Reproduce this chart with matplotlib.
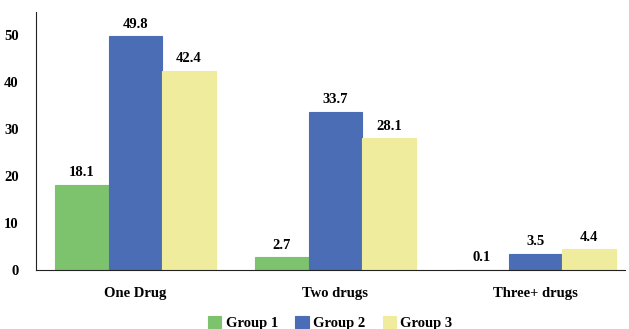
import numpy as np
import matplotlib.pyplot as plt

categories = ["One Drug", "Two drugs", "Three+ drugs"]
groups = ["Group 1", "Group 2", "Group 3"]
group1 = [18.1, 2.7, 0.1]
group2 = [49.8, 33.7, 3.5]
group3 = [42.4, 28.1, 4.4]
colors = ["#7dc36e", "#4a6db5", "#f0ec9e"]

plt.rcParams["font.family"] = ["Liberation Serif", "DejaVu Serif"]
plt.rcParams["font.weight"] = "bold"

fig = plt.figure(figsize=(6.29, 3.29), dpi=100)
ax = fig.add_axes([0.0565, 0.179, 0.937, 0.785])

x = np.arange(len(categories))
w = 0.2675
for i, (vals, name) in enumerate(zip([group1, group2, group3], groups)):
    bars = ax.bar(x + (i - 1) * w, vals, w, color=colors[i], edgecolor=colors[i],
                  linewidth=0.8, label=name)
    for b, v in zip(bars, vals):
        ax.text(b.get_x() + b.get_width() / 2, v + 1.2, f"{v}", ha="center",
                va="bottom", fontsize=10.5, fontweight="bold")

ax.set_xlim(-0.5, 2.4475)
ax.set_ylim(0, 55)
ax.set_yticks([0, 10, 20, 30, 40, 50])
ax.set_xticks(x)
ax.set_xticklabels(categories)
ax.tick_params(axis="x", length=0, labelsize=10.5, pad=12)
ax.tick_params(axis="y", length=0, labelsize=10.5, pad=12)
for lab in ax.get_xticklabels() + ax.get_yticklabels():
    lab.set_fontweight("bold")
ax.spines["top"].set_visible(False)
ax.spines["right"].set_visible(False)
ax.spines["left"].set_color("#222222")
ax.spines["bottom"].set_color("#222222")

ax.legend(loc="upper center", bbox_to_anchor=(0.5, -0.125), ncol=3, frameon=False,
          fontsize=10.5, handlelength=0.9, handleheight=0.9, handletextpad=0.3,
          columnspacing=1.2)

fig.savefig("out.png", dpi=100)
